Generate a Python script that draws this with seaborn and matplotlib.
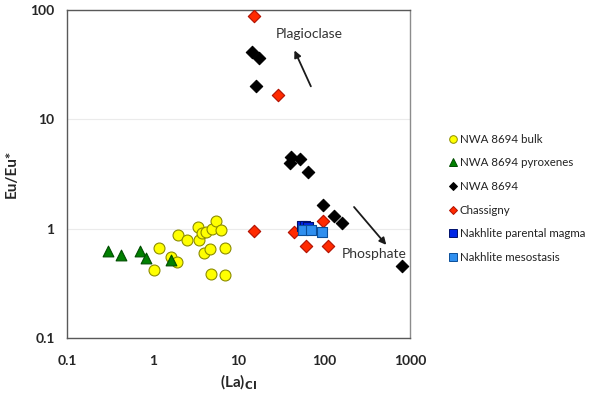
import numpy as np
import pandas as pd
import matplotlib
matplotlib.use("Agg")
import matplotlib.pyplot as plt
import seaborn as sns
from matplotlib.ticker import LogLocator, FixedLocator, NullFormatter, FixedFormatter

# ---------------- data ----------------
bulk_x = [1.18, 1.03, 1.97, 2.53, 1.62, 1.94, 3.37, 3.43, 3.78, 4.2, 4.85, 5.5, 6.3, 3.92, 4.6, 6.9, 4.8, 6.9]
bulk_y = [0.67, 0.42, 0.876, 0.79, 0.55, 0.50, 1.04, 0.78, 0.91, 0.93, 0.99, 1.17, 0.97, 0.60, 0.65, 0.66, 0.385, 0.38]

pyx_x = [0.30, 0.43, 0.71, 0.83, 1.62]
pyx_y = [0.62, 0.57, 0.625, 0.54, 0.52]

nwa_x = [14.4, 17.5, 16.1, 41, 39.9, 52, 65, 98, 131, 163, 813]
nwa_y = [41.6, 36.2, 20.3, 4.5, 4.0, 4.35, 3.3, 1.66, 1.31, 1.13, 0.456]

chas_x = [15.3, 28.6, 44.8, 95.5, 61, 112, 15.1]
chas_y = [88, 16.7, 0.94, 1.18, 0.70, 0.70, 0.96]

parent_x = [55, 60, 65]
parent_y = [1.05, 1.05, 1.03]

meso_x = [57, 71, 93]
meso_y = [0.97, 0.98, 0.93]

labels = ["NWA 8694 bulk", "NWA 8694 pyroxenes", "NWA 8694", "Chassigny",
          "Nakhlite parental magma", "Nakhlite mesostasis"]
xticks = [0.1, 1, 10, 100, 1000]
xticklabels = ["0.1", "1", "10", "100", "1000"]
yticks = [0.1, 1, 10, 100]
yticklabels = ["0.1", "1", "10", "100"]

# ---------------- style ----------------
sns.set_theme(style="white")
plt.rcParams['font.family'] = ['Lato', 'DejaVu Sans']

fig = plt.figure(figsize=(5.94, 3.94), dpi=100)
ax = fig.add_axes([67/594, 1-338/394, (410-67)/594, (338-10)/394])

groups = [
    (bulk_x, bulk_y, labels[0], "o", "#FFFF00", "#8C8C00", 62),
    (pyx_x, pyx_y, labels[1], "^", "#008000", "#004D00", 60),
    (nwa_x, nwa_y, labels[2], "D", "#000000", "#000000", 40),
    (chas_x, chas_y, labels[3], "D", "#FF2A00", "#B01000", 40),
    (parent_x, parent_y, labels[4], "s", "#0026E6", "#00106B", 55),
    (meso_x, meso_y, labels[5], "s", "#2F8FEF", "#0B4F9A", 55),
]

handles = []
for gx, gy, lab, mk, fc, ec, s in groups:
    df = pd.DataFrame({"x": gx, "y": gy})
    sns.scatterplot(data=df, x="x", y="y", marker=mk, color=fc, edgecolor=ec,
                    linewidth=0.8, s=s, ax=ax, zorder=3)
    h = plt.Line2D([], [], linestyle="none", marker=mk, markerfacecolor=fc,
                   markeredgecolor=ec, markersize=5.5 if mk != "D" else 4.5,
                   markeredgewidth=0.7, label=lab)
    handles.append(h)

ax.set_xscale("log")
ax.set_yscale("log")
ax.set_xlim(0.1, 1000)
ax.set_ylim(0.1, 100)

ax.xaxis.set_major_locator(FixedLocator(xticks))
ax.xaxis.set_major_formatter(FixedFormatter(xticklabels))
ax.yaxis.set_major_locator(FixedLocator(yticks))
ax.yaxis.set_major_formatter(FixedFormatter(yticklabels))
ax.xaxis.set_minor_locator(LogLocator(base=10, subs=np.arange(2, 10)))
ax.yaxis.set_minor_locator(LogLocator(base=10, subs=np.arange(2, 10)))
ax.xaxis.set_minor_formatter(NullFormatter())
ax.yaxis.set_minor_formatter(NullFormatter())

ax.tick_params(axis="both", which="major", direction="inout", length=6, width=0.8,
               color="#595959", labelsize=10, pad=6)
ax.tick_params(axis="both", which="minor", direction="in", length=3, width=0.8,
               color="#595959")
ax.tick_params(axis="x", which="major", pad=9)
for lab in ax.get_xticklabels() + ax.get_yticklabels():
    lab.set_fontweight("bold")

ax.grid(False)
ax.yaxis.grid(True, which="major", color="#EBEBEB", linewidth=0.8)
for sp in ax.spines.values():
    sp.set_color("#595959")
    sp.set_linewidth(1.0)
ax.spines["right"].set_color("#8C8C8C")

ax.set_xlabel(r"(La)$_{\mathbf{CI}}$", fontsize=11, fontweight="bold", labelpad=4)
ax.set_ylabel("Eu/Eu*", fontsize=11, fontweight="bold", labelpad=8)

# annotations
ax.annotate("", xy=(43.6, 45), xytext=(72, 19),
            arrowprops=dict(arrowstyle="-|>", color="#1a1a1a", lw=1.3, mutation_scale=10))
ax.text(67, 60, "Plagioclase", ha="center", va="center", fontsize=10, color="#333333")
ax.annotate("", xy=(555, 0.68), xytext=(212, 1.65),
            arrowprops=dict(arrowstyle="-|>", color="#1a1a1a", lw=1.3, mutation_scale=10))
ax.text(381, 0.59, "Phosphate", ha="center", va="center", fontsize=10, color="#333333")

fig.legend(handles=handles, loc="upper left", bbox_to_anchor=(445/594, 1-129/394),
           frameon=False, fontsize=8.3, handlelength=0.6, handletextpad=0.3,
           labelspacing=1.1, borderaxespad=0, labelcolor="#222222")

fig.savefig("out.png", dpi=100)
